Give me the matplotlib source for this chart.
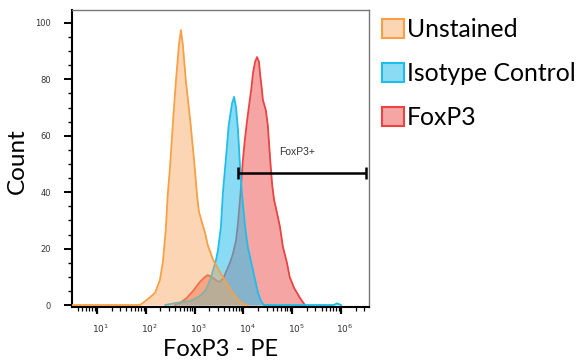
import matplotlib
matplotlib.use("Agg")
import matplotlib.pyplot as plt
import matplotlib.ticker as mticker
import matplotlib.transforms as mtransforms
from matplotlib.patches import Patch
import numpy as np

# ---- data ----
# log10 of PE intensity and Count
unstained_log = [0.49, 1.88, 1.94, 2.09, 2.19, 2.29, 2.35, 2.41, 2.45, 2.50, 2.56, 2.62, 2.68, 2.72,
                 2.76, 2.82, 2.91, 2.99, 3.05, 3.09, 3.15, 3.21, 3.27, 3.38, 3.52, 3.64, 3.77,
                 3.89, 3.99, 4.09]
unstained_cnt = [0, 0, 0.7, 2.8, 4.3, 8.9, 15.2, 26.6, 39, 49.6, 65.6, 79.8, 92.2, 97.5,
                 92.2, 79.8, 65.6, 51.4, 39, 33, 29.4, 25.9, 21.3, 16, 11.7, 8.2, 4.6,
                 1.8, 0.4, 0]

isotype_log = [2.40, 2.60, 2.91, 3.11, 3.23, 3.32, 3.38, 3.44, 3.48, 3.54, 3.58, 3.64, 3.70, 3.77,
               3.81, 3.85, 3.89, 3.93, 3.97, 4.03, 4.09, 4.16, 4.24, 4.30, 4.36, 4.42,
               5.85, 5.92, 6.00]
isotype_cnt = [0, 0.7, 1.4, 3.2, 5.3, 8.9, 12.4, 16, 19.5, 27.7, 39.7, 51.4, 63.8, 71.6,
               73.8, 69.9, 62, 49.6, 39.7, 28.4, 20.6, 15.2, 8.9, 4.3, 1.4, 0,
               0, 0.6, 0]

foxp3_log = [2.60, 2.70, 2.84, 2.97, 3.11, 3.21, 3.27, 3.36, 3.46, 3.52, 3.60, 3.66, 3.73, 3.79,
             3.85, 3.89, 3.93, 3.95, 3.99, 4.03, 4.07, 4.11, 4.16, 4.20, 4.24, 4.28, 4.32,
             4.34, 4.38, 4.40, 4.46, 4.50, 4.55, 4.59, 4.63, 4.69, 4.75, 4.81, 4.89, 4.95,
             5.04, 5.10, 5.16, 5.26]
foxp3_cnt = [0, 0.7, 2.5, 5.0, 8.2, 9.9, 10.6, 9.9, 8.5, 8.2, 9.9, 12.4, 15.2, 18.4,
             23, 29.1, 37.2, 41.8, 51.4, 58.5, 64.5, 69.9, 76.2, 82.6, 86.2, 87.9, 86.2,
             82.3, 76.2, 72.7, 69.1, 63.8, 51.4, 42.6, 37.2, 32.6, 27.7, 20.6, 15.2, 9.9,
             6.0, 4.3, 2.5, 0]

series_names = ["Unstained", "Isotype Control", "FoxP3"]
x_ticks = [1e1, 1e2, 1e3, 1e4, 1e5, 1e6]
gate_range = [7.8e3, 3.2e6]
gate_level = 46.8
gate_label = "FoxP3+"
x_label = "FoxP3 - PE"
y_label = "Count"

# ---- styles ----
fill_cols = ["#F9A65A", "#2BC0EE", "#EE4D4D"]
line_cols = ["#F7A045", "#1FBDEA", "#EB4242"]
fill_alpha = [0.45, 0.55, 0.5]

fig = plt.figure(figsize=(5.82, 3.62), dpi=100)
ax = fig.add_axes([72/582, 1-307/362, (369-72)/582, (307-10)/362])

data = [(unstained_log, unstained_cnt), (isotype_log, isotype_cnt), (foxp3_log, foxp3_cnt)]
zorders = [3, 2, 1]
for (lx, cnt), fc, lc, a, z in zip(data, fill_cols, line_cols, fill_alpha, zorders):
    x = 10 ** np.asarray(lx)
    ax.fill_between(x, cnt, 0, color=fc, alpha=a, lw=0, zorder=z)
    ax.plot(x, cnt, color=lc, lw=1.3, zorder=z + 0.5)

ax.set_xscale("log")
ax.set_xlim(3.08, 3.75e6)
ax.set_ylim(-0.7, 104.6)

# gate bar
ax.hlines(gate_level, gate_range[0], gate_range[1], color="black", lw=1.8, zorder=6)
ax.vlines(gate_range, gate_level - 2.0, gate_level + 2.0, color="black", lw=1.8, zorder=6)
ax.text(1.26e5, 54.2, gate_label, fontsize=7.5, color="#333333", ha="center", va="center",
        family="Liberation Sans")

# ticks
ax.yaxis.set_major_locator(mticker.MultipleLocator(20))
ax.yaxis.set_minor_locator(mticker.MultipleLocator(5))
ax.xaxis.set_major_locator(mticker.FixedLocator(x_ticks))
ax.xaxis.set_major_formatter(mticker.LogFormatterSciNotation())
ax.xaxis.set_minor_locator(mticker.LogLocator(base=10, subs=np.arange(2, 10), numticks=12))
ax.xaxis.set_minor_formatter(mticker.NullFormatter())
ax.tick_params(axis="y", which="major", length=6, width=1.4, pad=9, labelsize=6, labelcolor="#333333")
ax.tick_params(axis="y", which="minor", length=3, width=1.0)
ax.tick_params(axis="x", which="major", length=5, width=1.6, pad=6, labelsize=6.5, labelcolor="#333333")
ax.tick_params(axis="x", which="minor", length=3, width=0.9)
offset = mtransforms.ScaledTranslation(4/100, 0, fig.dpi_scale_trans)
for lab in ax.get_xticklabels():
    lab.set_transform(lab.get_transform() + offset)

for s in ["left", "bottom"]:
    ax.spines[s].set_linewidth(1.5)
    ax.spines[s].set_color("black")
for s in ["top", "right"]:
    ax.spines[s].set_linewidth(1.0)
    ax.spines[s].set_color("#777777")

ax.set_xlabel(x_label, fontsize=17, family="Lato", labelpad=3)
ax.set_ylabel(y_label, fontsize=17.5, family="Lato")
ax.yaxis.set_label_coords(-(72 - 28) / 297, 0.49)

handles = []
for fc, lc, a in zip(fill_cols, line_cols, fill_alpha):
    rgba = matplotlib.colors.to_rgba(fc)
    handles.append(Patch(facecolor=(rgba[0], rgba[1], rgba[2], a), edgecolor=lc, lw=1.5))
fig.legend(handles, series_names, loc="upper left", bbox_to_anchor=(382/582, 1 - 18/362),
           frameon=False, prop={"family": "Lato", "size": 17.8}, handlelength=0.9,
           handleheight=0.85, handletextpad=0.1, labelspacing=0.85, borderpad=0,
           borderaxespad=0)

fig.savefig("out.png", dpi=100)
